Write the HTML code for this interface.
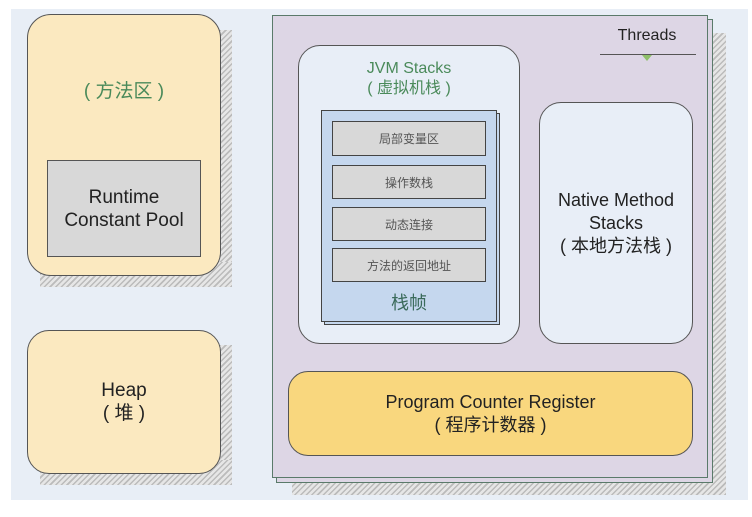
<!DOCTYPE html>
<html><head><meta charset="utf-8"><style>
body{margin:0;width:752px;height:517px;background:#fff;position:relative;overflow:hidden;font-family:"Liberation Sans","Noto Sans CJK SC",sans-serif}
div{position:absolute;box-sizing:border-box}
.hatch{background:repeating-linear-gradient(135deg,#bbb 0 1.5px,#e6e6e6 1.5px 4px)}
.c{display:flex;align-items:center;justify-content:center;text-align:center}
</style></head><body>
<div style="left:11px;top:9px;width:737px;height:491px;background:#e8eef6"></div>
<!-- method area -->
<div class="hatch" style="left:208px;top:30px;width:24px;height:257px"></div>
<div class="hatch" style="left:40px;top:262px;width:192px;height:25px"></div>
<div style="left:27px;top:14px;width:194px;height:262px;background:#fbe9c0;border:1.5px solid #555;border-radius:24px"></div>
<div class="c" style="left:27px;top:74px;width:194px;height:30px;color:#4a8a5a;font-size:19px">( 方法区 )</div>
<div class="c" style="left:47px;top:160px;width:154px;height:97px;background:#d8d8d8;border:1.5px solid #555;font-size:19px;line-height:23px;color:#222">Runtime<br>Constant Pool</div>
<!-- heap -->
<div class="hatch" style="left:208px;top:345px;width:24px;height:140px"></div>
<div class="hatch" style="left:40px;top:460px;width:192px;height:25px"></div>
<div class="c" style="left:27px;top:330px;width:194px;height:144px;background:#fbe9c0;border:1.5px solid #555;border-radius:22px;font-size:19px;line-height:23px;color:#222">Heap<br>( 堆 )</div>
<!-- threads -->
<div class="hatch" style="left:292px;top:33px;width:434px;height:462px"></div>
<div style="left:276px;top:19px;width:437px;height:464px;background:#ddd6e5;border:1.5px solid #5a7a6a"></div>
<div style="left:272px;top:15px;width:436px;height:463px;background:#ddd6e5;border:1.5px solid #5a7a6a"></div>
<div style="left:607px;top:27px;width:80px;height:22px;font-size:16px;color:#222;text-align:center">Threads</div>
<div style="left:600px;top:54px;width:96px;height:1px;background:#555"></div>
<div style="left:642px;top:55px;width:0;height:0;border-left:5px solid transparent;border-right:5px solid transparent;border-top:6px solid #8fbf6a"></div>
<!-- JVM stacks -->
<div style="left:298px;top:45px;width:222px;height:299px;background:#e8eef7;border:1.5px solid #555;border-radius:22px"></div>
<div class="c" style="left:298px;top:59px;width:222px;height:40px;color:#4a8a5a;font-size:16px;line-height:20px">JVM Stacks<br>( 虚拟机栈 )</div>
<div style="left:324px;top:113px;width:176px;height:212px;background:#c5d7ee;border:1.5px solid #444"></div>
<div style="left:321px;top:110px;width:176px;height:212px;background:#c5d7ee;border:1.5px solid #444"></div>
<div class="c" style="left:332px;top:121px;width:154px;height:35px;background:#d8d8d8;border:1.5px solid #444;font-size:12px;color:#555">局部变量区</div>
<div class="c" style="left:332px;top:165px;width:154px;height:34px;background:#d8d8d8;border:1.5px solid #444;font-size:12px;color:#555">操作数栈</div>
<div class="c" style="left:332px;top:207px;width:154px;height:34px;background:#d8d8d8;border:1.5px solid #444;font-size:12px;color:#555">动态连接</div>
<div class="c" style="left:332px;top:248px;width:154px;height:34px;background:#d8d8d8;border:1.5px solid #444;font-size:12px;color:#555">方法的返回地址</div>
<div class="c" style="left:321px;top:289px;width:176px;height:26px;font-size:18px;color:#3a6a5a">栈帧</div>
<!-- native -->
<div class="c" style="left:539px;top:102px;width:154px;height:242px;background:#e8eef7;border:1.5px solid #555;border-radius:22px;font-size:18px;line-height:23px;color:#222">Native Method<br>Stacks<br>( 本地方法栈 )</div>
<!-- PC -->
<div class="c" style="left:288px;top:371px;width:405px;height:85px;background:#f9d77e;border:1.5px solid #555;border-radius:20px;font-size:18px;line-height:23px;color:#222">Program Counter Register<br>( 程序计数器 )</div>
</body></html>
